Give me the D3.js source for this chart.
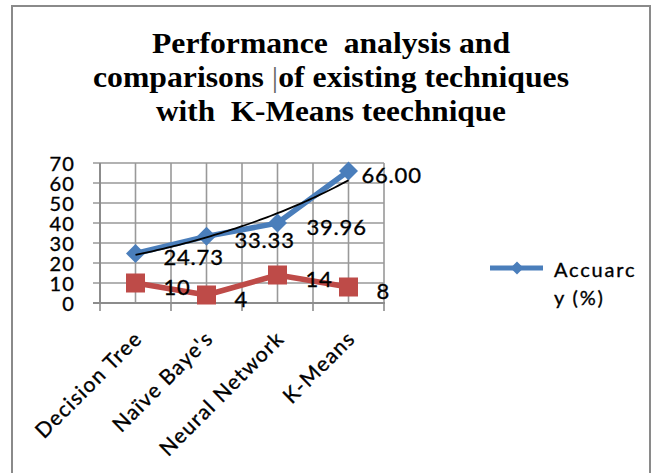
<!DOCTYPE html>
<html>
<head>
<meta charset="utf-8">
<script src="https://cdn.jsdelivr.net/npm/d3@7"></script>
<style>
  html, body { margin: 0; padding: 0; background: #fff; }
  svg { display: block; }
  .lbl { stroke: #000; stroke-width: 0.35px; }
</style>
</head>
<body>
<svg id="chart" width="656" height="473"></svg>
<script>
// ---- data ----
const categories = ["Decision Tree", "Naïve Baye's", "Neural Network", "K-Means"];
const accuracy = [24.73, 33.33, 39.96, 66.00];
const accuracyLabels = ["24.73", "33.33", "39.96", "66.00"];
const secondSeries = [10, 4, 14, 8];
const secondLabels = ["10", "4", "14", "8"];
const yTicks = [0, 10, 20, 30, 40, 50, 60, 70];
const titleLines = ["Performance  analysis and", "comparisons |of existing techniques", "with  K-Means teechnique"];
const legendLines = ["Accuarc", "y (%)"];

// ---- layout ----
const W = 656, H = 473;
const plot = { left: 100, right: 384, top: 163, bottom: 303 };
const blue = "#4A7EBB", red = "#BE4B48", grid = "#999999";
const sans = "Lato, 'Open Sans', sans-serif";

const svg = d3.select("#chart");

// chart frame
svg.append("rect")
  .attr("x", 12).attr("y", 6)
  .attr("width", 638).attr("height", H)
  .attr("fill", "#fff").attr("stroke", "#8a8a8a").attr("stroke-width", 2);

// title
const titleBaselines = [53, 87, 121];
const titleWidths = [358, 476, 350];
const title = svg.append("g")
  .attr("font-family", "'Liberation Serif', 'Times New Roman', serif")
  .attr("font-weight", "bold").attr("font-size", 29).attr("fill", "#000");
titleLines.forEach((line, i) => {
  const t = title.append("text")
    .attr("x", 331).attr("y", titleBaselines[i])
    .attr("text-anchor", "middle")
    .attr("textLength", titleWidths[i]).attr("lengthAdjust", "spacingAndGlyphs")
    .attr("xml:space", "preserve");
  if (line.includes("|")) {
    const [a, b] = line.split("|");
    t.append("tspan").text(a);
    t.append("tspan").attr("font-weight", "normal").attr("fill", "#666").text("|");
    t.append("tspan").text(b);
  } else {
    t.text(line);
  }
});

// scales
const x = d3.scaleBand().domain(categories).range([plot.left, plot.right]).padding(0);
const cx = c => x(c) + x.bandwidth() / 2;
const y = d3.scaleLinear().domain([0, 70]).range([plot.bottom, plot.top]);

// gridlines: horizontal at each tick, vertical at category centres and boundaries
const g = svg.append("g");
g.selectAll("line.h").data(yTicks).join("line")
  .attr("x1", plot.left - 7).attr("x2", plot.right)
  .attr("y1", d => y(d)).attr("y2", d => y(d))
  .attr("stroke", grid).attr("stroke-width", 1.6);
const bounds = categories.map(c => x(c)).concat([plot.right]);
const vLines = bounds.concat(categories.map(cx));
g.selectAll("line.v").data(vLines).join("line")
  .attr("x1", d => d).attr("x2", d => d)
  .attr("y1", plot.top).attr("y2", plot.bottom)
  .attr("stroke", grid).attr("stroke-width", 1.6);
// x-axis tick marks at category boundaries
g.selectAll("line.xt").data(bounds).join("line")
  .attr("x1", d => d).attr("x2", d => d)
  .attr("y1", plot.bottom).attr("y2", plot.bottom + 8)
  .attr("stroke", grid).attr("stroke-width", 1.8);
// axis lines
g.append("line").attr("x1", plot.left).attr("x2", plot.left)
  .attr("y1", plot.top).attr("y2", plot.bottom + 1)
  .attr("stroke", "#8c8c8c").attr("stroke-width", 2);
g.append("line").attr("x1", plot.left - 7).attr("x2", plot.right + 1)
  .attr("y1", plot.bottom).attr("y2", plot.bottom)
  .attr("stroke", "#8c8c8c").attr("stroke-width", 2);

// y-axis labels
const yAxis = d3.axisLeft(y).tickValues(yTicks).tickSize(0).tickPadding(25);
const ya = svg.append("g").attr("transform", `translate(${plot.left},0)`).call(yAxis);
ya.select(".domain").remove();
ya.selectAll("text")
  .attr("class", "lbl")
  .attr("font-family", sans).attr("font-size", 20).attr("fill", "#000")
  .attr("letter-spacing", 1.2).attr("dy", "0.36em");

// x-axis labels, rotated
svg.append("g").selectAll("text").data(categories).join("text")
  .attr("class", "lbl")
  .attr("transform", d => `translate(${cx(d) + 8},${340}) rotate(-45)`)
  .attr("text-anchor", "end")
  .attr("font-family", sans).attr("font-size", 21).attr("letter-spacing", 1.3)
  .attr("fill", "#000").text(d => d);

// exponential trendline fitted to the accuracy series
const xs = accuracy.map((_, i) => i + 1);
const lnY = accuracy.map(v => Math.log(v));
const mx = d3.mean(xs), my = d3.mean(lnY);
const slope = d3.sum(xs, (v, i) => (v - mx) * (lnY[i] - my)) / d3.sum(xs, v => (v - mx) ** 2);
const icpt = my - slope * mx;
const xt = d3.scaleLinear().domain([1, categories.length]).range([cx(categories[0]), cx(categories[categories.length - 1])]);
const trend = d3.range(1, categories.length + 0.001, 0.05).map(v => [xt(v), y(Math.exp(icpt + slope * v))]);

// series lines
const line = d3.line().x((d, i) => cx(categories[i])).y(d => y(d));
svg.append("path").datum(secondSeries).attr("d", line)
  .attr("fill", "none").attr("stroke", red).attr("stroke-width", 5.5).attr("stroke-linejoin", "round");
svg.append("path").datum(accuracy).attr("d", line)
  .attr("fill", "none").attr("stroke", blue).attr("stroke-width", 5.5).attr("stroke-linejoin", "round");

// markers
svg.append("g").selectAll("rect").data(secondSeries).join("rect")
  .attr("x", (d, i) => cx(categories[i]) - 9.5).attr("y", d => y(d) - 9.5)
  .attr("width", 19).attr("height", 19).attr("fill", red);
const diamond = r => `M0,${-r}L${r},0L0,${r}L${-r},0Z`;
svg.append("g").selectAll("path").data(accuracy).join("path")
  .attr("transform", (d, i) => `translate(${cx(categories[i])},${y(d)})`)
  .attr("d", diamond(9.5)).attr("fill", blue);

// trendline on top
svg.append("path").datum(trend).attr("d", d3.line())
  .attr("fill", "none").attr("stroke", "#000").attr("stroke-width", 1.8);

// data labels
const blueDx = [28, 28, 29, 13];
svg.append("g").selectAll("text").data(accuracy).join("text")
  .attr("class", "lbl")
  .attr("x", (d, i) => cx(categories[i]) + blueDx[i])
  .attr("y", d => y(d) + 4).attr("dy", "0.36em")
  .attr("font-family", sans).attr("font-size", 22).attr("letter-spacing", 0.8)
  .attr("fill", "#000").text((d, i) => accuracyLabels[i]);
svg.append("g").selectAll("text").data(secondSeries).join("text")
  .attr("class", "lbl")
  .attr("x", (d, i) => cx(categories[i]) + 28)
  .attr("y", d => y(d) + 4.5).attr("dy", "0.36em")
  .attr("font-family", sans).attr("font-size", 22).attr("letter-spacing", 0.8)
  .attr("fill", "#000").text((d, i) => secondLabels[i]);

// legend
const lg = svg.append("g");
lg.append("line").attr("x1", 490).attr("x2", 543).attr("y1", 268).attr("y2", 268)
  .attr("stroke", blue).attr("stroke-width", 5);
lg.append("path").attr("transform", "translate(517,268)").attr("d", diamond(6.5)).attr("fill", blue);
lg.selectAll("text").data(legendLines).join("text")
  .attr("class", "lbl")
  .attr("x", 554).attr("y", (d, i) => 270 + i * 28).attr("dy", "0.36em")
  .attr("font-family", sans).attr("font-size", 20).attr("letter-spacing", 1.8)
  .attr("fill", "#000").text(d => d);
</script>
</body>
</html>
